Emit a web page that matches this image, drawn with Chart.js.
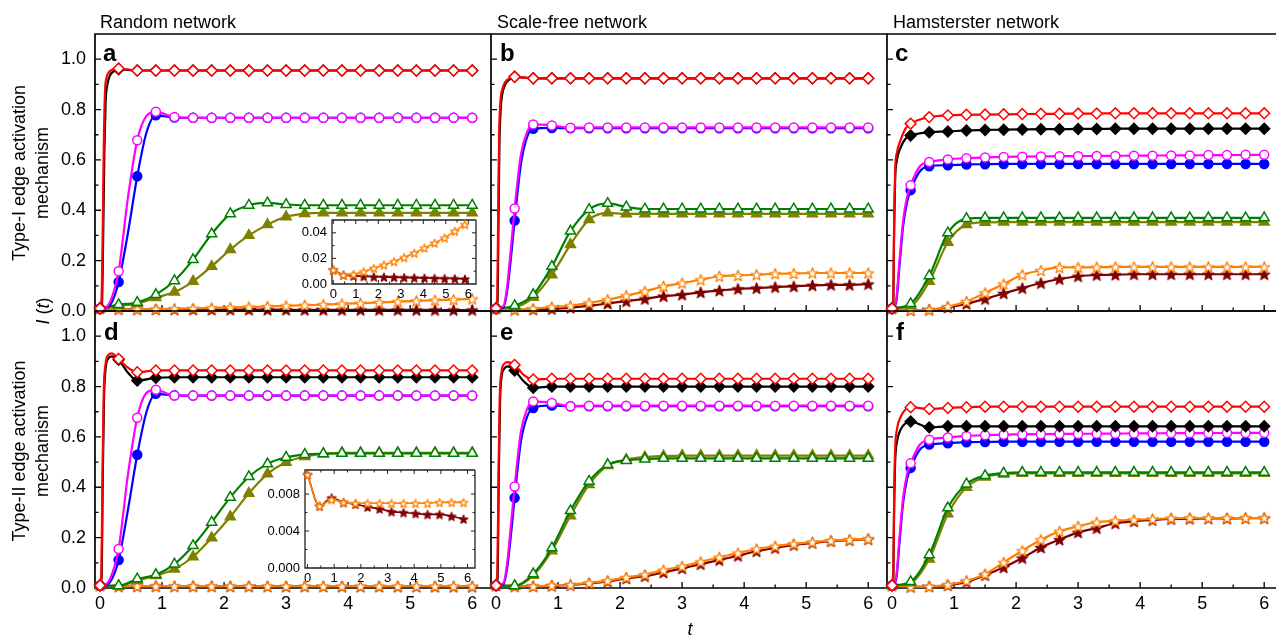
<!DOCTYPE html>
<html>
<head>
<meta charset="utf-8">
<script src="https://cdn.jsdelivr.net/npm/chart.js@4.4.1/dist/chart.umd.min.js"></script>
<style>
html, body { margin: 0; padding: 0; background: #fff; }
#fig { position: relative; width: 1276px; height: 637px; overflow: hidden; background: #fff;
       font-family: "Liberation Sans", Arial, Helvetica, sans-serif; color: #000; }
#plots { position: absolute; left: 0; top: 0; width: 1276px; height: 637px; }
#plots canvas { position: absolute; }
.lbl { position: absolute; white-space: nowrap; }
.col { font-size: 18px; line-height: 18px; top: 13px; }
.letter { font-size: 24px; line-height: 24px; font-weight: bold; }
.rot { font-size: 18px; line-height: 23px; text-align: center; transform: translate(-50%, -50%) rotate(-90deg); }
</style>
</head>
<body>
<div id="fig">
  <div id="plots"></div>
  <div class="lbl col" style="left:100px">Random network</div>
  <div class="lbl col" style="left:497px">Scale-free network</div>
  <div class="lbl col" style="left:893px">Hamsterster network</div>
  <div class="lbl letter" style="left:103px;top:41px">a</div>
  <div class="lbl letter" style="left:500px;top:41px">b</div>
  <div class="lbl letter" style="left:895px;top:41px">c</div>
  <div class="lbl letter" style="left:104px;top:320px">d</div>
  <div class="lbl letter" style="left:500px;top:320px">e</div>
  <div class="lbl letter" style="left:896px;top:320px">f</div>
  <div class="lbl rot" style="left:31px;top:173px">Type-I edge activation<br>mechanism</div>
  <div class="lbl rot" style="left:31px;top:451px">Type-II edge activation<br>mechanism</div>
  <div class="lbl rot" style="left:43px;top:311px"><i>I</i> (<i>t</i>)</div>
  <div class="lbl" style="left:690px;top:620px;font-size:18px;line-height:18px;transform:translateX(-50%)"><i>t</i></div>
</div>
<script>
// time points of the markers
const tGrid = [0, 0.3, 0.6, 0.9, 1.2, 1.5, 1.8, 2.1, 2.4, 2.7, 3.0, 3.3, 3.6, 3.9, 4.2, 4.5, 4.8, 5.1, 5.4, 5.7, 6.0];
const insetT = [0, 0.45, 0.9, 1.35, 1.8, 2.25, 2.7, 3.15, 3.6, 4.05, 4.5, 4.95, 5.4, 5.85];

// panel a - random network, type-I
const aRed = [0.01, 0.963, 0.955, 0.955, 0.955, 0.955, 0.955,
  0.955, 0.955, 0.955, 0.955, 0.955, 0.955, 0.955,
  0.955, 0.955, 0.955, 0.955, 0.955, 0.955, 0.955];
const aBlack = [0.01, 0.96, 0.955, 0.955, 0.955, 0.955, 0.955,
  0.955, 0.955, 0.955, 0.955, 0.955, 0.955, 0.955,
  0.955, 0.955, 0.955, 0.955, 0.955, 0.955, 0.955];
const aMag = [0.01, 0.158, 0.678, 0.791, 0.770, 0.767, 0.767,
  0.767, 0.767, 0.767, 0.767, 0.767, 0.767, 0.767,
  0.767, 0.767, 0.767, 0.767, 0.767, 0.767, 0.767];
const aBlue = [0.01, 0.115, 0.535, 0.777, 0.768, 0.767, 0.767,
  0.767, 0.767, 0.767, 0.767, 0.767, 0.767, 0.767,
  0.767, 0.767, 0.767, 0.767, 0.767, 0.767, 0.767];
const aGreen = [0.01, 0.025, 0.034, 0.065, 0.12, 0.204, 0.306,
  0.386, 0.42, 0.429, 0.423, 0.42, 0.42, 0.42,
  0.42, 0.42, 0.42, 0.42, 0.42, 0.42, 0.42];
const aOlive = [0.01, 0.02, 0.03, 0.053, 0.075, 0.118, 0.177,
  0.244, 0.30, 0.343, 0.374, 0.387, 0.39, 0.39,
  0.39, 0.39, 0.39, 0.39, 0.39, 0.39, 0.39];
const aOrange = [0.011, 0.008, 0.007, 0.0076, 0.009, 0.0105, 0.0124,
  0.014, 0.016, 0.018, 0.0205, 0.023, 0.025, 0.028,
  0.031, 0.034, 0.037, 0.040, 0.043, 0.045, 0.048];
const aMaroon = [0.011, 0.008, 0.007, 0.0063, 0.006, 0.0058, 0.0057,
  0.0055, 0.0053, 0.0052, 0.005, 0.0049, 0.0048, 0.0047,
  0.0045, 0.0044, 0.0043, 0.0042, 0.0041, 0.004, 0.004];
const aRedEarly = [[0.02, 0.02], [0.04, 0.25], [0.06, 0.65], [0.08, 0.87], [0.11, 0.93], [0.15, 0.95], [0.22, 0.96]];
const aBlackEarly = [[0.03, 0.02], [0.05, 0.28], [0.07, 0.63], [0.09, 0.83], [0.12, 0.9], [0.16, 0.935], [0.22, 0.952]];
const aMagEarly = [[0.1, 0.015], [0.2, 0.06], [0.45, 0.45], [0.75, 0.775]];
const aBlueEarly = [[0.1, 0.012], [0.2, 0.04], [0.45, 0.31], [0.75, 0.71]];

// panel b - scale-free network, type-I
const bRed = [0.01, 0.93, 0.924, 0.924, 0.924, 0.924, 0.924,
  0.924, 0.924, 0.924, 0.924, 0.924, 0.924, 0.924,
  0.924, 0.924, 0.924, 0.924, 0.924, 0.924, 0.924];
const bBlack = [0.01, 0.93, 0.924, 0.924, 0.924, 0.924, 0.924,
  0.924, 0.924, 0.924, 0.924, 0.924, 0.924, 0.924,
  0.924, 0.924, 0.924, 0.924, 0.924, 0.924, 0.924];
const bMag = [0.01, 0.407, 0.741, 0.737, 0.728, 0.729, 0.729,
  0.729, 0.729, 0.729, 0.729, 0.729, 0.729, 0.729,
  0.729, 0.729, 0.729, 0.729, 0.729, 0.729, 0.729];
const bBlue = [0.01, 0.359, 0.724, 0.727, 0.726, 0.726, 0.726,
  0.726, 0.726, 0.726, 0.726, 0.726, 0.726, 0.726,
  0.726, 0.726, 0.726, 0.726, 0.726, 0.726, 0.726];
const bGreen = [0.01, 0.021, 0.065, 0.177, 0.317, 0.403, 0.427,
  0.413, 0.405, 0.405, 0.405, 0.405, 0.405, 0.405,
  0.405, 0.405, 0.405, 0.405, 0.405, 0.405, 0.405];
const bOlive = [0.01, 0.015, 0.054, 0.144, 0.264, 0.363, 0.39,
  0.386, 0.386, 0.386, 0.386, 0.386, 0.386, 0.386,
  0.386, 0.386, 0.386, 0.386, 0.386, 0.386, 0.386];
const bOrange = [0.01, 0.006, 0.009, 0.016, 0.021, 0.032, 0.045,
  0.061, 0.078, 0.098, 0.111, 0.124, 0.138, 0.141,
  0.144, 0.148, 0.149, 0.151, 0.151, 0.151, 0.151];
const bMaroon = [0.01, 0.005, 0.006, 0.008, 0.013, 0.02, 0.03,
  0.039, 0.048, 0.059, 0.065, 0.074, 0.081, 0.088,
  0.091, 0.095, 0.098, 0.102, 0.104, 0.104, 0.107];
const bRedEarly = [[0.02, 0.05], [0.035, 0.4], [0.05, 0.7], [0.07, 0.83], [0.1, 0.88], [0.15, 0.91], [0.22, 0.925]];
const bBlackEarly = [[0.025, 0.04], [0.04, 0.36], [0.055, 0.66], [0.075, 0.8], [0.1, 0.86], [0.15, 0.9], [0.22, 0.92]];
const bMagEarly = [[0.12, 0.02], [0.18, 0.1], [0.24, 0.25], [0.4, 0.62], [0.5, 0.71]];
const bBlueEarly = [[0.12, 0.015], [0.18, 0.08], [0.24, 0.21], [0.4, 0.58], [0.5, 0.69]];

// panel c - hamsterster network, type-I
const cRed = [0.01, 0.744, 0.77, 0.777, 0.779, 0.78, 0.781,
  0.782, 0.783, 0.783, 0.784, 0.784, 0.785, 0.785,
  0.785, 0.785, 0.785, 0.785, 0.785, 0.785, 0.785];
const cBlack = [0.01, 0.697, 0.71, 0.713, 0.717, 0.719, 0.72,
  0.721, 0.722, 0.722, 0.723, 0.723, 0.724, 0.724,
  0.724, 0.724, 0.724, 0.724, 0.724, 0.724, 0.724];
const cMag = [0.01, 0.499, 0.592, 0.602, 0.607, 0.61, 0.612,
  0.613, 0.614, 0.615, 0.615, 0.616, 0.616, 0.617,
  0.617, 0.618, 0.618, 0.619, 0.619, 0.62, 0.62];
const cBlue = [0.01, 0.48, 0.575, 0.579, 0.582, 0.583, 0.584,
  0.584, 0.584, 0.584, 0.584, 0.584, 0.584, 0.584,
  0.584, 0.584, 0.584, 0.584, 0.584, 0.584, 0.584];
const cGreen = [0.01, 0.029, 0.14, 0.31, 0.367, 0.37, 0.37,
  0.37, 0.37, 0.37, 0.37, 0.37, 0.37, 0.37,
  0.37, 0.37, 0.37, 0.37, 0.37, 0.37, 0.37];
const cOlive = [0.01, 0.02, 0.118, 0.273, 0.343, 0.352, 0.353,
  0.353, 0.353, 0.353, 0.353, 0.353, 0.353, 0.353,
  0.353, 0.353, 0.353, 0.353, 0.353, 0.353, 0.353];
const cOrange = [0.01, 0.004, 0.005, 0.018, 0.038, 0.072, 0.107,
  0.144, 0.161, 0.173, 0.173, 0.174, 0.175, 0.175,
  0.175, 0.175, 0.175, 0.175, 0.175, 0.175, 0.175];
const cMaroon = [0.01, 0.004, 0.005, 0.014, 0.029, 0.048, 0.07,
  0.091, 0.111, 0.127, 0.138, 0.143, 0.144, 0.146,
  0.146, 0.146, 0.146, 0.146, 0.146, 0.146, 0.146];
const cRedEarly = [[0.02, 0.05], [0.035, 0.38], [0.05, 0.56], [0.08, 0.63], [0.14, 0.68], [0.22, 0.725]];
const cBlackEarly = [[0.02, 0.04], [0.035, 0.34], [0.05, 0.52], [0.08, 0.6], [0.14, 0.65], [0.22, 0.685]];
const cMagEarly = [[0.07, 0.05], [0.12, 0.2], [0.18, 0.36], [0.24, 0.45], [0.45, 0.575]];
const cBlueEarly = [[0.07, 0.04], [0.12, 0.18], [0.18, 0.34], [0.24, 0.43], [0.45, 0.555]];

// panel d - random network, type-II
const dRed = [0.01, 0.91, 0.857, 0.864, 0.864, 0.864, 0.864,
  0.864, 0.864, 0.864, 0.864, 0.864, 0.864, 0.864,
  0.864, 0.864, 0.864, 0.864, 0.864, 0.864, 0.864];
const dBlack = [0.01, 0.906, 0.824, 0.835, 0.837, 0.837, 0.837,
  0.837, 0.837, 0.837, 0.837, 0.837, 0.837, 0.837,
  0.837, 0.837, 0.837, 0.837, 0.837, 0.837, 0.837];
const dMag = [0.01, 0.155, 0.676, 0.787, 0.764, 0.764, 0.764,
  0.764, 0.764, 0.764, 0.764, 0.764, 0.764, 0.764,
  0.764, 0.764, 0.764, 0.764, 0.764, 0.764, 0.764];
const dBlue = [0.01, 0.111, 0.529, 0.771, 0.765, 0.764, 0.764,
  0.764, 0.764, 0.764, 0.764, 0.764, 0.764, 0.764,
  0.764, 0.764, 0.764, 0.764, 0.764, 0.764, 0.764];
const dGreen = [0.01, 0.009, 0.036, 0.053, 0.095, 0.168, 0.261,
  0.36, 0.442, 0.493, 0.519, 0.53, 0.533, 0.535,
  0.535, 0.535, 0.535, 0.535, 0.535, 0.535, 0.535];
const dOlive = [0.01, 0.008, 0.03, 0.049, 0.075, 0.124, 0.199,
  0.283, 0.376, 0.453, 0.499, 0.522, 0.533, 0.537,
  0.537, 0.537, 0.537, 0.537, 0.537, 0.537, 0.537];
const dOrange = [0.0101, 0.0068, 0.0073, 0.0074, 0.0071, 0.0071, 0.007,
  0.007, 0.007, 0.007, 0.007, 0.007, 0.007, 0.007,
  0.007, 0.007, 0.0071, 0.0071, 0.0071, 0.0071, 0.0071];
const dMaroon = [0.0101, 0.0068, 0.0073, 0.0076, 0.0071, 0.007, 0.0069,
  0.0067, 0.0065, 0.0064, 0.0062, 0.0061, 0.006, 0.0059,
  0.0058, 0.0058, 0.0057, 0.0056, 0.0055, 0.0054, 0.0053];
const dRedEarly = [[0.02, 0.04], [0.04, 0.45], [0.06, 0.78], [0.09, 0.89], [0.13, 0.925], [0.19, 0.932], [0.24, 0.925], [0.45, 0.875]];
const dBlackEarly = [[0.025, 0.04], [0.045, 0.45], [0.065, 0.76], [0.09, 0.87], [0.13, 0.91], [0.19, 0.92], [0.45, 0.855]];
const dMagEarly = [[0.1, 0.015], [0.2, 0.06], [0.45, 0.45], [0.75, 0.775]];
const dBlueEarly = [[0.1, 0.012], [0.2, 0.04], [0.45, 0.31], [0.75, 0.7]];

// panel e - scale-free network, type-II
const eRed = [0.01, 0.886, 0.828, 0.831, 0.831, 0.831, 0.831,
  0.831, 0.831, 0.831, 0.831, 0.831, 0.831, 0.831,
  0.831, 0.831, 0.831, 0.831, 0.831, 0.831, 0.831];
const eBlack = [0.01, 0.864, 0.795, 0.80, 0.80, 0.80, 0.80,
  0.80, 0.80, 0.80, 0.80, 0.80, 0.80, 0.80,
  0.80, 0.80, 0.80, 0.80, 0.80, 0.80, 0.80];
const eMag = [0.01, 0.403, 0.741, 0.735, 0.722, 0.724, 0.724,
  0.724, 0.724, 0.724, 0.724, 0.724, 0.724, 0.724,
  0.724, 0.724, 0.724, 0.724, 0.724, 0.724, 0.724];
const eBlue = [0.01, 0.358, 0.715, 0.725, 0.722, 0.722, 0.722,
  0.722, 0.722, 0.722, 0.722, 0.722, 0.722, 0.722,
  0.722, 0.722, 0.722, 0.722, 0.722, 0.722, 0.722];
const eGreen = [0.01, 0.009, 0.056, 0.159, 0.307, 0.424, 0.49,
  0.506, 0.512, 0.515, 0.515, 0.515, 0.515, 0.515,
  0.515, 0.515, 0.515, 0.515, 0.515, 0.515, 0.515];
const eOlive = [0.01, 0.008, 0.05, 0.148, 0.287, 0.411, 0.486,
  0.51, 0.52, 0.524, 0.526, 0.526, 0.526, 0.526,
  0.526, 0.526, 0.526, 0.526, 0.526, 0.526, 0.526];
const eOrange = [0.01, 0.007, 0.007, 0.01, 0.013, 0.02, 0.029,
  0.042, 0.053, 0.071, 0.086, 0.104, 0.122, 0.139,
  0.155, 0.166, 0.175, 0.182, 0.188, 0.192, 0.195];
const eMaroon = [0.01, 0.007, 0.007, 0.009, 0.012, 0.018, 0.026,
  0.038, 0.047, 0.062, 0.078, 0.095, 0.111, 0.128,
  0.146, 0.159, 0.171, 0.179, 0.186, 0.19, 0.194];
const eRedEarly = [[0.02, 0.04], [0.04, 0.45], [0.06, 0.76], [0.09, 0.86], [0.13, 0.89], [0.19, 0.897], [0.45, 0.845]];
const eBlackEarly = [[0.025, 0.04], [0.045, 0.45], [0.065, 0.74], [0.09, 0.84], [0.13, 0.87], [0.19, 0.88], [0.45, 0.82]];
const eMagEarly = [[0.12, 0.02], [0.18, 0.1], [0.24, 0.25], [0.4, 0.62], [0.5, 0.71]];
const eBlueEarly = [[0.12, 0.015], [0.18, 0.08], [0.24, 0.21], [0.4, 0.58], [0.5, 0.68]];

// panel f - hamsterster network, type-II
const fRed = [0.01, 0.718, 0.711, 0.715, 0.718, 0.72, 0.72,
  0.72, 0.72, 0.72, 0.72, 0.72, 0.72, 0.72,
  0.72, 0.72, 0.72, 0.72, 0.72, 0.72, 0.72];
const fBlack = [0.01, 0.661, 0.638, 0.642, 0.642, 0.642, 0.642,
  0.642, 0.642, 0.642, 0.642, 0.642, 0.642, 0.642,
  0.642, 0.642, 0.642, 0.642, 0.642, 0.642, 0.642];
const fMag = [0.01, 0.495, 0.589, 0.598, 0.604, 0.607, 0.609,
  0.61, 0.611, 0.612, 0.612, 0.613, 0.613, 0.614,
  0.614, 0.615, 0.615, 0.615, 0.616, 0.616, 0.616];
const fBlue = [0.01, 0.477, 0.57, 0.575, 0.579, 0.58, 0.581,
  0.581, 0.581, 0.581, 0.581, 0.581, 0.581, 0.581,
  0.581, 0.581, 0.581, 0.581, 0.581, 0.581, 0.581];
const fGreen = [0.01, 0.025, 0.132, 0.318, 0.413, 0.446, 0.456,
  0.459, 0.459, 0.459, 0.459, 0.459, 0.459, 0.459,
  0.459, 0.459, 0.459, 0.459, 0.459, 0.459, 0.459];
const fOlive = [0.01, 0.02, 0.115, 0.294, 0.4, 0.44, 0.452,
  0.455, 0.455, 0.455, 0.455, 0.455, 0.455, 0.455,
  0.455, 0.455, 0.455, 0.455, 0.455, 0.455, 0.455];
const fOrange = [0.01, 0.005, 0.006, 0.013, 0.029, 0.055, 0.102,
  0.148, 0.192, 0.225, 0.245, 0.261, 0.267, 0.271,
  0.274, 0.277, 0.278, 0.278, 0.278, 0.278, 0.278];
const fMaroon = [0.01, 0.005, 0.006, 0.011, 0.024, 0.051, 0.082,
  0.119, 0.161, 0.192, 0.221, 0.238, 0.257, 0.265,
  0.27, 0.274, 0.275, 0.276, 0.276, 0.277, 0.277];
const fRedEarly = [[0.02, 0.05], [0.035, 0.38], [0.05, 0.55], [0.08, 0.63], [0.14, 0.68], [0.22, 0.71]];
const fBlackEarly = [[0.02, 0.04], [0.035, 0.33], [0.05, 0.5], [0.08, 0.58], [0.14, 0.63], [0.22, 0.655]];
const fMagEarly = [[0.07, 0.05], [0.12, 0.2], [0.18, 0.36], [0.24, 0.45], [0.45, 0.57]];
const fBlueEarly = [[0.07, 0.04], [0.12, 0.18], [0.18, 0.34], [0.24, 0.43], [0.45, 0.55]];

// insets (zoom on the two lowest curves of a and d)
const insetAOrange = [0.0111, 0.0071, 0.0076, 0.0097, 0.0124, 0.015, 0.0176, 0.0208, 0.0242, 0.0282, 0.0321, 0.0361, 0.0413, 0.0466];
const insetAMaroon = [0.0111, 0.0071, 0.0063, 0.006, 0.0057, 0.0055, 0.0053, 0.0051, 0.0049, 0.0047, 0.0045, 0.0043, 0.0042, 0.004];
const insetDOrange = [0.0101, 0.0067, 0.0074, 0.0071, 0.007, 0.007, 0.007, 0.007, 0.007, 0.007, 0.007, 0.0071, 0.0071, 0.0071];
const insetDMaroon = [0.0101, 0.0067, 0.0076, 0.0071, 0.0069, 0.0066, 0.0064, 0.0061, 0.006, 0.0059, 0.0058, 0.0058, 0.0056, 0.0053];

// ---- layout ----
const colLeft = [95, 491, 887];
const colW = 396;
const rowTop = [34, 311];
const rowH = 277;
const PX_PER_T = 62.03;
const ML = 52, MT = 10, MR = 10, MB = 34;
const FONT = '"Liberation Sans", Arial, Helvetica, sans-serif';

Chart.defaults.font.family = FONT;
Chart.defaults.color = '#000';

const seriesOrder = ['red', 'black', 'mag', 'blue', 'green', 'olive', 'orange', 'maroon'];
const styles = {
  red:    { color: '#ff0000', shape: 'rectRot',  open: true,  r: 5.4 },
  black:  { color: '#000000', shape: 'rectRot',  open: false, r: 5.4 },
  mag:    { color: '#ff00ff', shape: 'circle',   open: true,  r: 4.5 },
  blue:   { color: '#0000ff', shape: 'circle',   open: false, r: 4.5 },
  green:  { color: '#008000', shape: 'triangle', open: true,  r: 5.8 },
  olive:  { color: '#808000', shape: 'triangle', open: false, r: 5.8 },
  orange: { color: '#ff8000', shape: 'star',     open: true,  r: 5 },
  maroon: { color: '#800000', shape: 'star',     open: false, r: 5 }
};

const starCache = {};
function starImage(st, small) {
  const key = st.color + (small ? 's' : 'b');
  if (starCache[key]) return starCache[key];
  const R = small ? 4.4 : 5.8, ri = R * 0.42;
  const s = Math.ceil(R * 2 + 3);
  const c = document.createElement('canvas');
  c.width = s; c.height = s;
  const g = c.getContext('2d');
  g.beginPath();
  for (let i = 0; i < 10; i++) {
    const rr = i % 2 ? ri : R;
    const a = -Math.PI / 2 + i * Math.PI / 5;
    g.lineTo(s / 2 + rr * Math.cos(a), s / 2 + 0.6 + rr * Math.sin(a));
  }
  g.closePath();
  g.fillStyle = st.open ? '#fff' : st.color;
  g.fill();
  g.lineWidth = 1.3;
  g.lineJoin = 'round';
  g.strokeStyle = st.color;
  g.stroke();
  starCache[key] = c;
  return c;
}

function makeDataset(ts, vals, early, st, small) {
  const pts = ts.map((t, i) => ({ x: t, y: vals[i], m: true }));
  (early || []).forEach(([x, y]) => pts.push({ x, y, m: false }));
  pts.sort((p, q) => p.x - q.x);
  const r = small ? st.r * 0.8 : st.r;
  return {
    data: pts,
    borderColor: st.color,
    borderWidth: small ? 1.6 : 2.2,
    pointStyle: st.shape === 'star' ? starImage(st, small) : st.shape,
    pointRadius: c => (c.raw && c.raw.m ? r : 0),
    pointBackgroundColor: st.open ? '#fff' : st.color,
    pointBorderColor: st.color,
    pointBorderWidth: 1.5,
    cubicInterpolationMode: 'monotone',
    clip: false
  };
}

function tickValues(scale, step) {
  const out = [];
  const start = Math.ceil(scale.min / step - 1e-9);
  for (let k = start; k * step <= scale.max + 1e-9; k++) {
    const v = k * step;
    if (Math.abs(v - scale.min) < 1e-9 || Math.abs(v - scale.max) < 1e-9) continue;
    const major = scale.ticks.some(t => Math.abs(t.value - v) < 1e-9);
    out.push([v, major]);
  }
  return out;
}

// frame and inward ticks, drawn under the data
const framePlugin = {
  id: 'frame',
  beforeDatasetsDraw(chart, args, o) {
    const { ctx, chartArea: a, scales: { x, y } } = chart;
    ctx.save();
    if (o.bg) {
      ctx.fillStyle = '#fff';
      ctx.fillRect(a.left, a.top, a.right - a.left, a.bottom - a.top);
    }
    ctx.strokeStyle = o.color;
    ctx.lineWidth = o.width;
    ctx.beginPath();
    ctx.moveTo(a.right, a.top);
    ctx.lineTo(a.left, a.top);
    ctx.lineTo(a.left, a.bottom);
    ctx.lineTo(a.right, a.bottom);
    if (o.box) ctx.lineTo(a.right, a.top);
    ctx.stroke();
    ctx.lineWidth = o.tickWidth;
    ctx.beginPath();
    tickValues(x, o.xMinor).forEach(([v, major]) => {
      const px = x.getPixelForValue(v), L = major ? o.major : o.minor;
      ctx.moveTo(px, a.bottom); ctx.lineTo(px, a.bottom - L);
      if (o.box) { ctx.moveTo(px, a.top); ctx.lineTo(px, a.top + L); }
    });
    tickValues(y, o.yMinor).forEach(([v, major]) => {
      const py = y.getPixelForValue(v), L = major ? o.major : o.minor;
      ctx.moveTo(a.left, py); ctx.lineTo(a.left + L, py);
      if (o.box) { ctx.moveTo(a.right, py); ctx.lineTo(a.right - L, py); }
    });
    ctx.stroke();
    ctx.restore();
  }
};
Chart.register(framePlugin);

// fixed axis sizes, no extra label overflow padding
function fixX(h) {
  return s => { s.height = h; s.paddingLeft = 0; s.paddingRight = 0; s.paddingTop = 0; s.paddingBottom = 0; };
}
function fixY(w) {
  return s => { s.width = w; s.paddingTop = 0; s.paddingBottom = 0; s.paddingLeft = 0; s.paddingRight = 0; };
}

const plots = document.getElementById('plots');
function addCanvas(left, top, w, h) {
  const c = document.createElement('canvas');
  c.width = w; c.height = h;
  c.style.left = left + 'px'; c.style.top = top + 'px';
  c.style.width = w + 'px'; c.style.height = h + 'px';
  plots.appendChild(c);
  return c;
}

const panels = [
  { col: 0, row: 0, vals: { red: aRed, black: aBlack, mag: aMag, blue: aBlue, green: aGreen, olive: aOlive, orange: aOrange, maroon: aMaroon },
    early: { red: aRedEarly, black: aBlackEarly, mag: aMagEarly, blue: aBlueEarly } },
  { col: 1, row: 0, vals: { red: bRed, black: bBlack, mag: bMag, blue: bBlue, green: bGreen, olive: bOlive, orange: bOrange, maroon: bMaroon },
    early: { red: bRedEarly, black: bBlackEarly, mag: bMagEarly, blue: bBlueEarly } },
  { col: 2, row: 0, vals: { red: cRed, black: cBlack, mag: cMag, blue: cBlue, green: cGreen, olive: cOlive, orange: cOrange, maroon: cMaroon },
    early: { red: cRedEarly, black: cBlackEarly, mag: cMagEarly, blue: cBlueEarly } },
  { col: 0, row: 1, vals: { red: dRed, black: dBlack, mag: dMag, blue: dBlue, green: dGreen, olive: dOlive, orange: dOrange, maroon: dMaroon },
    early: { red: dRedEarly, black: dBlackEarly, mag: dMagEarly, blue: dBlueEarly } },
  { col: 1, row: 1, vals: { red: eRed, black: eBlack, mag: eMag, blue: eBlue, green: eGreen, olive: eOlive, orange: eOrange, maroon: eMaroon },
    early: { red: eRedEarly, black: eBlackEarly, mag: eMagEarly, blue: eBlueEarly } },
  { col: 2, row: 1, vals: { red: fRed, black: fBlack, mag: fMag, blue: fBlue, green: fGreen, olive: fOlive, orange: fOrange, maroon: fMaroon },
    early: { red: fRedEarly, black: fBlackEarly, mag: fMagEarly, blue: fBlueEarly } }
];

function drawPanel(p) {
  const areaW = p.col === 2 ? 1276 - colLeft[2] : colW;
  const mr = p.col === 2 ? 0 : MR;
  const W = areaW + ML + mr, H = rowH + MT + MB;
  const cv = addCanvas(colLeft[p.col] - ML, rowTop[p.row] - MT, W, H);
  const xmin = -0.081, xmax = xmin + areaW / PX_PER_T;
  const datasets = seriesOrder.map(k => makeDataset(tGrid, p.vals[k], p.early[k], styles[k], false));
  new Chart(cv, {
    type: 'line',
    data: { datasets },
    options: {
      responsive: false, animation: false, events: [],
      layout: { padding: { left: 0, top: MT, right: mr, bottom: 0 }, autoPadding: false },
      plugins: {
        legend: { display: false }, tooltip: { enabled: false },
        frame: { box: false, bg: false, color: '#000', width: 1.7, tickWidth: 1.3, major: 6, minor: 3.5, xMinor: 0.5, yMinor: 0.1 }
      },
      scales: {
        x: {
          type: 'linear', min: xmin, max: xmax,
          grid: { display: false, drawTicks: false }, border: { display: false },
          ticks: { display: p.row === 1, stepSize: 1, includeBounds: false, padding: 5, maxRotation: 0, autoSkip: false,
                   font: { size: 18 }, color: '#000', callback: v => v },
          afterFit: fixX(MB)
        },
        y: {
          type: 'linear', min: 0, max: 1.1,
          grid: { display: false, drawTicks: false }, border: { display: false },
          ticks: { display: p.col === 0, stepSize: 0.2, includeBounds: false, padding: 9,
                   font: { size: 18 }, color: '#000', callback: v => v.toFixed(1) },
          afterFit: fixY(ML)
        }
      }
    }
  });
}
panels.forEach(drawPanel);

const insets = [
  { left: 332, top: 220, w: 144, h: 64, xmin: -0.058, pxPerT: 22.5, ymax: 0.05, yStep: 0.02, yMinor: 0.01, digits: 2,
    orange: insetAOrange, maroon: insetAMaroon },
  { left: 305, top: 470, w: 170, h: 98, xmin: -0.094, pxPerT: 26.67, ymax: 0.0106, yStep: 0.004, yMinor: 0.002, digits: 3,
    orange: insetDOrange, maroon: insetDMaroon }
];

function drawInset(s) {
  const il = 40, it = 4, ir = 4, ib = 20;
  const cv = addCanvas(s.left - il, s.top - it, s.w + il + ir, s.h + it + ib);
  const datasets = [
    makeDataset(insetT, s.orange, null, styles.orange, true),
    makeDataset(insetT, s.maroon, null, styles.maroon, true)
  ];
  new Chart(cv, {
    type: 'line',
    data: { datasets },
    options: {
      responsive: false, animation: false, events: [],
      layout: { padding: { left: 0, top: it, right: ir, bottom: 0 }, autoPadding: false },
      plugins: {
        legend: { display: false }, tooltip: { enabled: false },
        frame: { box: true, bg: true, color: '#222', width: 1.3, tickWidth: 1, major: 4, minor: 2.5, xMinor: 0.5, yMinor: s.yMinor }
      },
      scales: {
        x: {
          type: 'linear', min: s.xmin, max: s.xmin + s.w / s.pxPerT,
          grid: { display: false, drawTicks: false }, border: { display: false },
          ticks: { stepSize: 1, includeBounds: false, padding: 3, maxRotation: 0, autoSkip: false,
                   font: { size: 13 }, color: '#000', callback: v => v },
          afterFit: fixX(ib)
        },
        y: {
          type: 'linear', min: 0, max: s.ymax,
          grid: { display: false, drawTicks: false }, border: { display: false },
          ticks: { stepSize: s.yStep, includeBounds: false, padding: 5,
                   font: { size: 13 }, color: '#000', callback: v => v.toFixed(s.digits) },
          afterFit: fixY(il)
        }
      }
    }
  });
}
insets.forEach(drawInset);
</script>
</body>
</html>
